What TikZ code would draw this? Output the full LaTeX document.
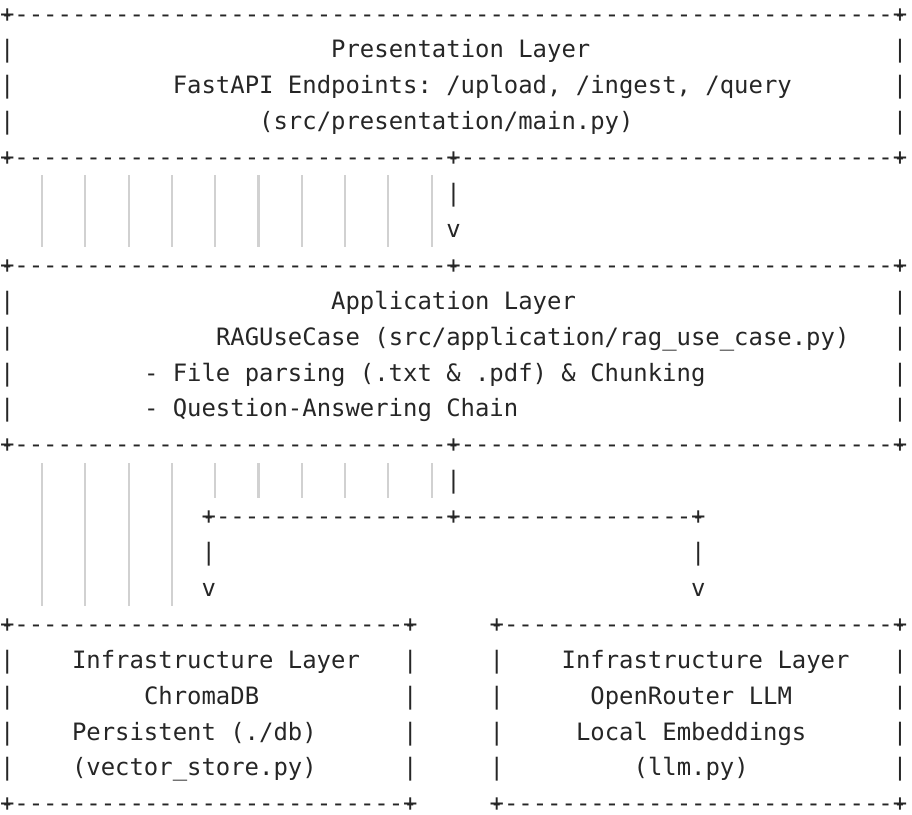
\documentclass[tikz,border=0pt]{standalone}
\usepackage{fontspec}
\setmonofont{DejaVu Sans Mono}
\tikzset{
  ch/.style={anchor=base west,inner sep=0pt,outer sep=0pt,
    font=\ttfamily\fontsize{6.8pt}{8pt}\selectfont,text=black!85},
  guide/.style={draw=black!18,line width=0.6pt},
}
% column / row of the character grid, in px
\newcommand\cx[1]{14.4*#1}
\newcommand\ry[1]{22+35.9*#1}
\newcommand\txt[4]{\node[ch] (#1) at ({\cx{#2}},{\ry{#3}}) {#4};}
\newcommand\hrow[3]{\foreach \c in {#2,...,#3}{\node[ch] at ({\cx{\c}},{\ry{#1}}) {-};}}
\newcommand\vbar[2]{\node[ch] at ({\cx{#1}},{\ry{#2}}) {|};}
\newcommand\plus[2]{\node[ch] at ({\cx{#1}},{\ry{#2}}) {+};}
\newcommand\us{\char95}
\begin{document}
\begin{tikzpicture}[x=0.01cm,y=-0.01cm]
  \useasboundingbox (0,0) rectangle (912,814);
  % indent guides
  \foreach \k in {0,...,9}
    \draw[guide] ({42+43.3*\k},175) -- ({42+43.3*\k},247);
  \foreach \k in {0,...,3}
    \draw[guide] ({42+43.3*\k},463) -- ({42+43.3*\k},606);
  \foreach \k in {4,...,9}
    \draw[guide] ({42+43.3*\k},463) -- ({42+43.3*\k},498);

  % presentation layer
  \hrow{0}{0}{62} \plus{0}{0} \plus{62}{0}
  \foreach \r in {1,2,3}{\vbar{0}{\r} \vbar{62}{\r}}
  \txt{pres}{23}{1}{Presentation Layer}
  \txt{api}{12}{2}{FastAPI Endpoints: /upload, /ingest, /query}
  \txt{main}{18}{3}{(src/presentation/main.py)}
  \hrow{4}{0}{62} \plus{0}{4} \plus{31}{4} \plus{62}{4}
  \vbar{31}{5}
  \txt{arr1}{31}{6}{v}

  % application layer
  \hrow{7}{0}{62} \plus{0}{7} \plus{31}{7} \plus{62}{7}
  \foreach \r in {8,...,11}{\vbar{0}{\r} \vbar{62}{\r}}
  \txt{app}{23}{8}{Application Layer}
  \txt{rag}{15}{9}{RAGUseCase (src/application/rag\us use\us case.py)}
  \txt{parse}{10}{10}{- File parsing (.txt \& .pdf) \& Chunking}
  \txt{qa}{10}{11}{- Question-Answering Chain}
  \hrow{12}{0}{62} \plus{0}{12} \plus{31}{12} \plus{62}{12}
  \vbar{31}{13}
  \hrow{14}{14}{48} \plus{14}{14} \plus{31}{14} \plus{48}{14}
  \vbar{14}{15} \vbar{48}{15}
  \txt{arr2}{14}{16}{v}
  \txt{arr3}{48}{16}{v}

  % infrastructure layers
  \foreach \r in {17,22}{
    \hrow{\r}{0}{28} \plus{0}{\r} \plus{28}{\r}
    \hrow{\r}{34}{62} \plus{34}{\r} \plus{62}{\r}}
  \foreach \r in {18,...,21}{\vbar{0}{\r} \vbar{28}{\r} \vbar{34}{\r} \vbar{62}{\r}}
  \txt{infa}{5}{18}{Infrastructure Layer}
  \txt{chroma}{10}{19}{ChromaDB}
  \txt{persist}{5}{20}{Persistent (./db)}
  \txt{vstore}{5}{21}{(vector\us store.py)}
  \txt{infb}{39}{18}{Infrastructure Layer}
  \txt{router}{41}{19}{OpenRouter LLM}
  \txt{embed}{40}{20}{Local Embeddings}
  \txt{llm}{44}{21}{(llm.py)}
\end{tikzpicture}
\end{document}
